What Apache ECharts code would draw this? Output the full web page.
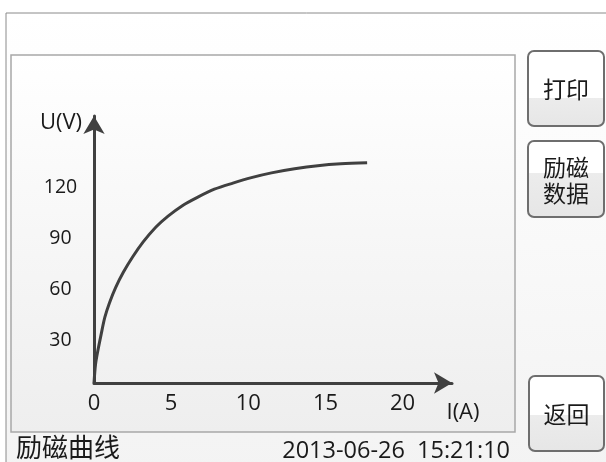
<!DOCTYPE html>
<html>
<head>
<meta charset="utf-8">
<script src="https://cdn.jsdelivr.net/npm/echarts@6/dist/echarts.min.js"></script>
<style>
html,body{margin:0;padding:0;background:#fff;}
#c{width:606px;height:462px;}
</style>
</head>
<body>
<div id="c"></div>
<script>
// data
const currentA = [0, 0.1, 0.25, 0.45, 0.7, 1.0, 1.4, 1.9, 2.5, 3.2, 4.0, 4.8, 5.7, 6.7, 7.8, 9.0, 10.2, 11.5, 13.0, 14.5, 16.0, 17.7];
const voltageV = [0, 11, 19, 28, 38.5, 47, 56, 65, 74, 83, 91.5, 98, 104, 109, 113.8, 117.4, 120.6, 123.4, 125.8, 127.6, 128.7, 129.3];
const xTicks = [0, 5, 10, 15, 20];
const yTicks = [30, 60, 90, 120];
const xName = 'I(A)';
const yName = 'U(V)';
const chartTitle = '励磁曲线';
const timestamp = '2013-06-26  15:21:10';
const buttons = ['打印', '励磁\n数据', '返回'];

const axisColor = '#404040';
const textColor = '#1a1a1a';
const font = '"Open Sans", "Noto Sans", sans-serif';
const cjk = '"Noto Sans CJK SC", sans-serif';

function button(x, y, w, h, label, split) {
  return {
    type: 'group', x: x, y: y, children: [
      { type: 'rect', shape: { x: 0, y: 0, width: w, height: h, r: 6 },
        style: { fill: { type: 'linear', x: 0, y: 0, x2: 0, y2: 1, colorStops: [
          { offset: 0, color: '#ffffff' }, { offset: split, color: '#ffffff' },
          { offset: split, color: '#ececec' }, { offset: 1, color: '#e6e6e6' } ] },
          stroke: '#6e6e6e', lineWidth: 2 } },
      { type: 'text', x: w / 2, y: h / 2 + 1,
        style: { text: label, fill: textColor, font: '23px ' + cjk, align: 'center', verticalAlign: 'middle', lineHeight: 26 } }
    ]
  };
}

const chart = echarts.init(document.getElementById('c'), null, { renderer: 'canvas' });
chart.setOption({
  animation: false,
  backgroundColor: '#ffffff',
  graphic: [
    { type: 'rect', z: -10, shape: { x: 6, y: 13, width: 610, height: 460 },
      style: { fill: { type: 'linear', x: 0, y: 0, x2: 0, y2: 1, colorStops: [
        { offset: 0, color: '#ffffff' }, { offset: 1, color: '#f3f3f3' } ] }, stroke: '#8a8a8a', lineWidth: 1 } },
    { type: 'rect', z: -9, shape: { x: 11, y: 55, width: 504, height: 377 },
      style: { fill: { type: 'linear', x: 0, y: 0, x2: 0, y2: 1, colorStops: [
        { offset: 0, color: '#ffffff' }, { offset: 1, color: '#eeeeee' } ] }, stroke: '#a8a8a8', lineWidth: 1.5 } },
    button(528, 51, 76, 75, buttons[0], 0.62),
    button(528, 141, 76, 76, buttons[1], 0.42),
    button(529, 376, 75, 75, buttons[2], 0.52),
    { type: 'text', x: 61, y: 123, style: { text: yName, fill: textColor, font: '22px ' + font, align: 'center', verticalAlign: 'middle' } },
    { type: 'text', x: 463, y: 413, style: { text: xName, fill: textColor, font: '22px ' + font, align: 'center', verticalAlign: 'middle' } },
    { type: 'text', x: 16, y: 447, style: { text: chartTitle, fill: textColor, font: '26px ' + cjk, align: 'left', verticalAlign: 'middle' } },
    { type: 'text', x: 510, y: 451, style: { text: timestamp, fill: textColor, font: '23.5px ' + font, align: 'right', verticalAlign: 'middle' } }
  ],
  grid: { left: 94, right: 154, top: 116, bottom: 79, containLabel: false },
  xAxis: {
    type: 'value', min: 0, max: 23.2,
    axisLine: { onZero: false, lineStyle: { color: axisColor, width: 3 }, symbol: ['none', 'arrow'], symbolSize: [16, 18] },
    axisTick: { show: false },
    splitLine: { show: false },
    axisLabel: { customValues: xTicks, margin: 10, color: textColor, fontSize: 22, fontFamily: font }
  },
  yAxis: {
    type: 'value', min: 0, max: 156.8,
    axisLine: { show: true, onZero: false, lineStyle: { color: axisColor, width: 3 }, symbol: ['none', 'arrow'], symbolSize: [16, 18] },
    axisTick: { show: false },
    splitLine: { show: false },
    axisLabel: { customValues: yTicks, margin: 33.5, align: 'center', verticalAlign: 'top', lineHeight: 18, color: textColor, fontSize: 19.5, fontFamily: font }
  },
  series: [{
    type: 'line',
    data: currentA.map((v, i) => [v, voltageV[i]]),
    smooth: 0.3,
    showSymbol: false,
    lineStyle: { color: axisColor, width: 3 }
  }]
});
</script>
</body>
</html>
